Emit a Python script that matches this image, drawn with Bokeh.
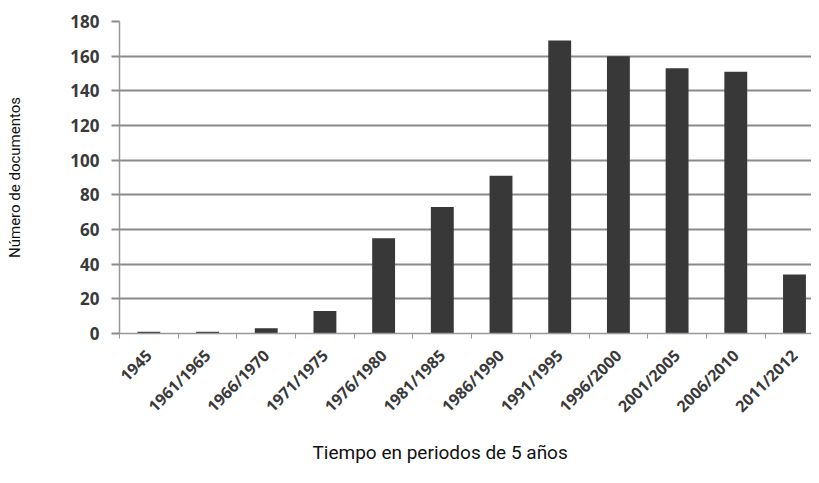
from bokeh.plotting import figure
from bokeh.models import Range1d, FixedTicker, ColumnDataSource, Title
from bokeh.embed import file_html
from bokeh.resources import INLINE

periods = ["1945", "1961/1965", "1966/1970", "1971/1975", "1976/1980", "1981/1985",
           "1986/1990", "1991/1995", "1996/2000", "2001/2005", "2006/2010", "2011/2012"]
documents = [1, 1, 3, 13, 55, 73, 91, 169, 160, 153, 151, 34]
y_ticks = [0, 20, 40, 60, 80, 100, 120, 140, 160, 180]
x_title = "Tiempo en periodos de 5 años"
y_title = "Número de documentos"

xs = [i + 0.5 for i in range(len(periods))]
src = ColumnDataSource(dict(x=xs, top=documents))

TITLE_FONT = "Roboto"

p = figure(width=811, height=475, output_backend="svg", toolbar_location=None,
           x_range=Range1d(0, 11.79), y_range=Range1d(0, 180),
           min_border_left=119, min_border_right=0, min_border_top=21, min_border_bottom=142)
p.outline_line_color = None
p.background_fill_color = "white"

p.vbar(x="x", top="top", width=0.39, source=src, fill_color="#383838", line_color=None)

# grid
p.xgrid.grid_line_color = None
p.ygrid.ticker = FixedTicker(ticks=y_ticks)
p.ygrid.grid_line_color = "#8a8a8a"
p.ygrid.grid_line_width = 2

# x axis
xa = p.xaxis[0]
xa.ticker = FixedTicker(ticks=xs, minor_ticks=list(range(len(periods) + 1)))
xa.major_label_overrides = {x: lab for x, lab in zip(xs, periods)}
xa.major_label_orientation = 0.785398
xa.major_tick_out = 0
xa.major_tick_in = 0
xa.minor_tick_out = 5
xa.minor_tick_in = 0
xa.minor_tick_line_color = "#999999"
xa.axis_line_color = "#999999"
xa.axis_line_width = 1.5
xa.major_label_text_font = "Open Sans"
xa.major_label_text_font_style = "bold"
xa.major_label_text_font_size = "16px"
xa.major_label_text_color = "#3a3a3a"
xa.major_label_standoff = 14

# y axis
ya = p.yaxis[0]
ya.ticker = FixedTicker(ticks=y_ticks)
ya.major_tick_out = 8
ya.major_tick_in = 0
ya.major_tick_line_color = "#8a8a8a"
ya.major_tick_line_width = 2
ya.minor_tick_line_color = None
ya.axis_line_color = "#999999"
ya.axis_line_width = 1.5
ya.major_label_text_font = "Open Sans"
ya.major_label_text_font_style = "bold"
ya.major_label_text_font_size = "17px"
ya.major_label_text_color = "#3a3a3a"
ya.major_label_standoff = 12
ya.axis_label = y_title
ya.axis_label_text_font = TITLE_FONT
ya.axis_label_text_font_style = "normal"
ya.axis_label_text_font_size = "15px"
ya.axis_label_text_color = "#111111"
ya.axis_label_standoff = 43

# x axis title, shifted left like the reference
p.add_layout(Title(text=x_title, align="left", offset=193, standoff=22,
                   text_font=TITLE_FONT, text_font_size="19px", text_font_style="normal",
                   text_color="#111111"), "below")

open("out.html", "w").write(file_html(p, INLINE))
